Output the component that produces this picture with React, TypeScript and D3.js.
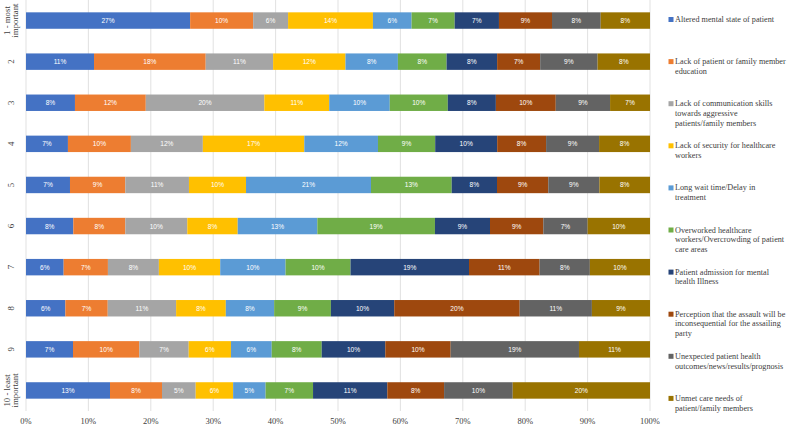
import React from "react";
import * as d3 from "d3";

const categories = ["1", "2", "3", "4", "5", "6", "7", "8", "9", "10"];
const categoryLabelLines = [
  ["1 - most", "important"], ["2"], ["3"], ["4"], ["5"], ["6"], ["7"], ["8"], ["9"], ["10 - least", "important"],
];

const seriesNames = [
  "Altered mental state of patient",
  "Lack of patient or family member education",
  "Lack of communication skills towards aggressive patients/family members",
  "Lack of security for healthcare workers",
  "Long wait time/Delay in treatment",
  "Overworked healthcare workers/Overcrowding of patient care areas",
  "Patient admission for mental health Illness",
  "Perception that the assault will be inconsequential for the assailing party",
  "Unexpected patient health outcomes/news/results/prognosis",
  "Unmet care needs of patient/family members",
];
const legendLines = [
  ["Altered mental state of patient"],
  ["Lack of patient or family member", "education"],
  ["Lack of communication skills", "towards aggressive", "patients/family members"],
  ["Lack of security for healthcare", "workers"],
  ["Long wait time/Delay in", "treatment"],
  ["Overworked healthcare", "workers/Overcrowding of patient", "care areas"],
  ["Patient admission for mental", "health Illness"],
  ["Perception that the assault will be", "inconsequential for the assailing", "party"],
  ["Unexpected patient health", "outcomes/news/results/prognosis"],
  ["Unmet care needs of", "patient/family members"],
];

const alteredMental = [26.83, 10.9, 8.24, 6.86, 7.33, 7.66, 5.98, 6.24, 7.08, 12.52];
const lackEducation = [10.3, 17.9, 11.92, 10.3, 9.22, 8.42, 7.03, 6.72, 9.99, 7.75];
const lackCommunication = [5.71, 10.8, 19.95, 11.77, 10.61, 10.03, 8.09, 10.84, 7.44, 5.02];
const lackSecurity = [13.87, 11.6, 10.92, 16.6, 9.51, 8.16, 9.74, 7.88, 6.37, 5.58];
const longWait = [6.32, 8.4, 10.19, 12.05, 20.83, 12.89, 10.38, 7.66, 6.14, 4.84];
const overworked = [7.04, 7.8, 9.77, 9.36, 13.45, 19.04, 10.31, 9.0, 7.53, 7.07];
const mentalAdmission = [7.24, 8.1, 8.09, 10.14, 7.55, 8.91, 18.82, 10.04, 9.58, 11.07];
const perception = [8.67, 6.9, 10.08, 8.0, 8.55, 8.63, 11.21, 19.89, 9.85, 8.46];
const unexpected = [7.96, 9.2, 9.14, 8.67, 8.51, 7.17, 7.98, 11.45, 19.33, 10.23];
const unmetNeeds = [8.06, 8.4, 6.72, 8.33, 8.44, 10.1, 9.55, 9.21, 10.7, 20.46];

const seriesValues = [
  alteredMental, lackEducation, lackCommunication, lackSecurity, longWait,
  overworked, mentalAdmission, perception, unexpected, unmetNeeds,
];

const xTicks = [0, 0.1, 0.2, 0.3, 0.4, 0.5, 0.6, 0.7, 0.8, 0.9, 1];

const colors = [
  "#4472C4", "#ED7D31", "#A5A5A5", "#FFC000", "#5B9BD5",
  "#70AD47", "#264478", "#9E480E", "#636363", "#997300",
];

const W = 788;
const H = 424;

export default function App() {
  const table = categories.map((c, i) => {
    const row: any = { cat: c };
    seriesNames.forEach((s, j) => (row[s] = seriesValues[j][i]));
    return row;
  });
  const stacked = d3.stack<any>().keys(seriesNames).offset(d3.stackOffsetExpand)(table);

  const x = d3.scaleLinear().domain([0, 1]).range([26, 650]);
  const y = d3.scaleBand<string>().domain(categories).range([0, 411]).paddingInner(0.6).paddingOuter(0.3);
  const bw = y.bandwidth();
  const serif = "Liberation Serif, Times New Roman, DejaVu Serif, serif";

  return (
    <svg width={W} height={H} style={{ position: "fixed", left: 0, top: 0, background: "#fff" }}>
      <rect width={W} height={H} fill="#fff" />
      {xTicks.map((t) => (
        <line key={t} x1={x(t)} x2={x(t)} y1={0} y2={411} stroke="#D9D9D9" strokeWidth={0.8} />
      ))}
      {stacked.map((layer, j) => (
        <g key={layer.key} fill={colors[j]}>
          {layer.map((d, i) => (
            <rect key={i} x={x(d[0])} y={y(categories[i])} width={x(d[1]) - x(d[0])} height={bw} />
          ))}
        </g>
      ))}
      {stacked.map((layer, j) => (
        <g key={"l" + layer.key}>
          {layer.map((d, i) => (
            <text
              key={i}
              x={(x(d[0]) + x(d[1])) / 2}
              y={(y(categories[i]) as number) + bw / 2}
              textAnchor="middle"
              dominantBaseline="central"
              fill="#fff"
              fontSize={6.6}
              fontFamily="Liberation Sans, Arial, sans-serif"
            >
              {Math.round(seriesValues[j][i]) + "%"}
            </text>
          ))}
        </g>
      ))}
      {categories.map((c, i) => {
        const cy = (y(c) as number) + bw / 2;
        const lines = categoryLabelLines[i];
        const lh = 8.2;
        return (
          <text
            key={c}
            transform={`translate(11,${cy}) rotate(-90)`}
            textAnchor="middle"
            fontSize={8.8}
            fontFamily={serif}
            fill="#404040"
          >
            {lines.map((ln, k) => (
              <tspan key={k} x={0} y={(k - (lines.length - 1) / 2) * lh} dominantBaseline="central">
                {ln}
              </tspan>
            ))}
          </text>
        );
      })}
      {xTicks.map((t) => (
        <text
          key={"t" + t}
          x={x(t)}
          y={420.5}
          textAnchor="middle"
          dominantBaseline="central"
          fontSize={8.5}
          fontFamily={serif}
          fill="#404040"
        >
          {d3.format(".0%")(t)}
        </text>
      ))}
      {legendLines.map((lines, i) => {
        const y0 = 19.5 + i * 42.1;
        return (
          <g key={"lg" + i}>
            <rect x={668.5} y={y0 - 2.5} width={5} height={5} fill={colors[i]} />
            {lines.map((ln, k) => (
              <text
                key={k}
                x={675}
                y={y0 + k * 9.7}
                dominantBaseline="central"
                fontSize={8.2}
                fontFamily={serif}
                fill="#404040"
              >
                {ln}
              </text>
            ))}
          </g>
        );
      })}
    </svg>
  );
}
